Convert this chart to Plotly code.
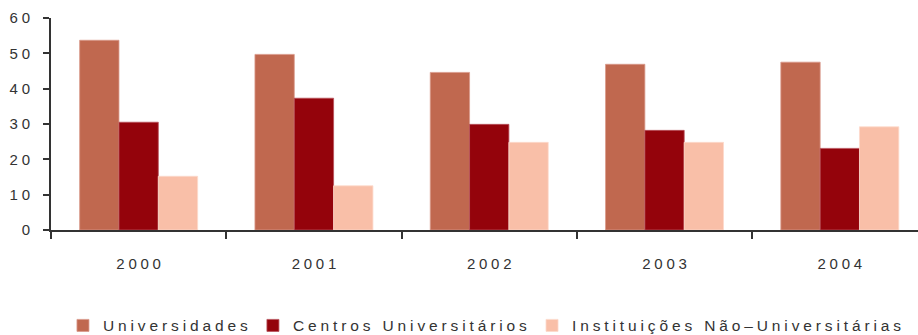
import plotly.graph_objects as go

# Share of enrolments by type of institution, 2000-2004 (%)
years = ["2000", "2001", "2002", "2003", "2004"]
universidades = [53.7, 49.7, 44.6, 46.9, 47.5]
centros = [30.5, 37.3, 29.9, 28.2, 23.1]
instituicoes = [15.2, 12.5, 24.8, 24.8, 29.2]

series_names = ["Universidades", "Centros Universitários", "Instituições Não–Universitárias"]
series_colors = ["#C0684F", "#94030B", "#F9BFA8"]
edge_colors = ["#D9988A", "#B8505A", "#FCD9CB"]
y_ticks = [0, 10, 20, 30, 40, 50, 60]

SEP = "\u2005"  # four-per-em space between letters gives the wide tracking


def tracked(text):
    """Spread the letters of a label apart; words get a wider gap."""
    words = text.split(" ")
    return (SEP + " " + SEP).join(SEP.join(list(w)) for w in words)


fig = go.Figure()
for name, vals, col, edge in zip(series_names, [universidades, centros, instituicoes],
                                 series_colors, edge_colors):
    fig.add_trace(go.Bar(
        x=years, y=vals, name=tracked(name),
        marker=dict(color=col, line=dict(color=edge, width=0.8)),
    ))

font_family = "Liberation Sans, Arial, sans-serif"
text_color = "#333333"

fig.update_layout(
    width=918, height=335,
    margin=dict(l=51, r=0, t=18, b=105, autoexpand=False),
    paper_bgcolor="white", plot_bgcolor="white",
    barmode="group", bargap=0.327, bargroupgap=0,
    font=dict(family=font_family, size=15, color=text_color),
    showlegend=True,
    legend=dict(
        orientation="h", x=0.0138, xanchor="left", y=-0.452, yanchor="middle",
        font=dict(family=font_family, size=15.5, color=text_color),
        itemwidth=30, tracegroupgap=0,
    ),
)

fig.update_xaxes(
    type="category",
    range=[-0.5, 4.446],
    tickmode="array", tickvals=years, ticktext=[tracked(y) for y in years],
    tickson="boundaries",
    ticks="outside", ticklen=7, tickwidth=2, tickcolor="#333333",
    showline=True, linecolor="#333333", linewidth=2,
    showgrid=False, zeroline=False,
    ticklabelstandoff=19,
    tickfont=dict(family=font_family, size=15, color=text_color),
)

fig.update_yaxes(
    range=[0, 60],
    tickmode="array", tickvals=y_ticks, ticktext=[tracked(str(v)) for v in y_ticks],
    ticks="outside", ticklen=6, tickwidth=2, tickcolor="#333333",
    showline=True, linecolor="#333333", linewidth=2,
    showgrid=False, zeroline=False,
    ticklabelstandoff=10,
    tickfont=dict(family=font_family, size=15, color=text_color),
)

fig.write_html("out.html")
